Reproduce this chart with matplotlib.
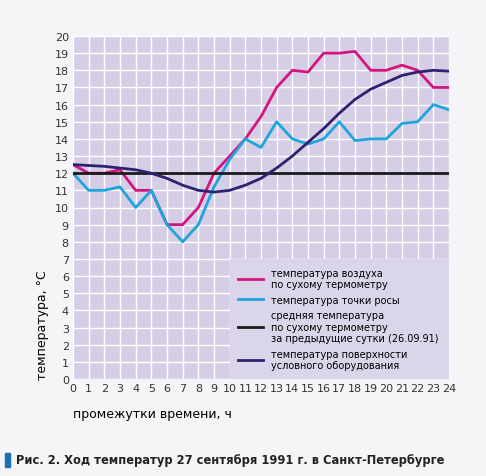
import matplotlib
matplotlib.use("Agg")
import matplotlib.pyplot as plt

hours = list(range(25))
air = [12.5, 12, 12, 12.2, 11, 11, 9, 9, 10, 12, 13, 14, 15.3, 17, 18, 17.9, 19, 19, 19.1, 18, 18, 18.3, 18, 17, 17]
dew = [12, 11, 11, 11.2, 10, 11, 9, 8, 9, 11.2, 12.8, 14, 13.5, 15, 14, 13.7, 14, 15, 13.9, 14, 14, 14.9, 15, 16, 15.7]
surface = [12.5, 12.45, 12.4, 12.3, 12.2, 12, 11.7, 11.3, 11, 10.9, 11, 11.3, 11.7, 12.3, 13, 13.8, 14.6, 15.5, 16.3, 16.9, 17.3, 17.7, 17.9, 18, 17.95]
mean_prev = 12
labels = ["температура воздуха\nпо сухому термометру",
          "температура точки росы",
          "средняя температура\nпо сухому термометру\nза предыдущие сутки (26.09.91)",
          "температура поверхности\nусловного оборудования"]
colors = ["#d4147f", "#1fa5dc", "#1a1a1a", "#2e2170"]

fig = plt.figure(figsize=(4.86, 4.77), dpi=100, facecolor="#f5f5f8")
ax = fig.add_axes([73/486, 1-380/477, 376/486, 343/477])
ax.set_facecolor("#d6cee6")
ax.plot(hours, air, color=colors[0], lw=2, label=labels[0])
ax.plot(hours, dew, color=colors[1], lw=2, label=labels[1])
ax.plot(hours, [mean_prev]*len(hours), color=colors[2], lw=2, label=labels[2])
ax.plot(hours, surface, color=colors[3], lw=2, label=labels[3])
ax.set_xlim(0, 24); ax.set_ylim(0, 20)
ax.set_xticks(hours); ax.set_yticks(range(21))
ax.grid(color="white", lw=1)
ax.set_axisbelow(True)
for s in ax.spines.values():
    s.set_visible(False)
ax.tick_params(length=0, labelsize=8, colors="#333333", pad=3)
ax.set_xlabel("промежутки времени, ч", fontsize=9, loc="left", labelpad=10)
ax.set_ylabel("температура, °C", fontsize=9, loc="bottom", labelpad=4)
leg = ax.legend(loc="lower left", bbox_to_anchor=(10/24, 0, 14/24, 0.36), mode="expand",
                fontsize=7, frameon=True, fancybox=False, borderaxespad=0,
                handlelength=2.5, labelspacing=0.55, borderpad=0.9)
leg.get_frame().set_facecolor("#dbd5ea")
leg.get_frame().set_edgecolor("none")
leg.get_frame().set_alpha(1)
fig.patches.append(plt.Rectangle((5/486, 1-468/477), 5/486, 14/477, transform=fig.transFigure,
                                 color="#1f6fb5"))
fig.text(16/486, 1-461/477, "Рис. 2. Ход температур 27 сентября 1991 г. в Санкт-Петербурге",
         fontsize=8.3, fontweight="bold", va="center", color="#222222")
fig.savefig("out.png", dpi=100, facecolor=fig.get_facecolor())
